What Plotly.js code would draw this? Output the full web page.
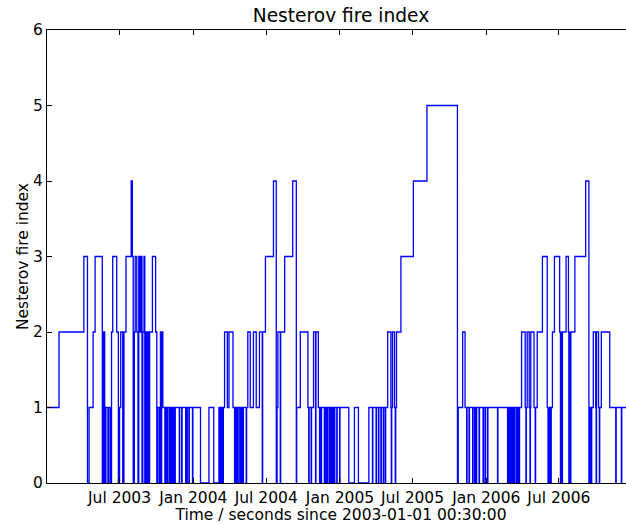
<!DOCTYPE html>
<html>
<head>
<meta charset="utf-8">
<script src="https://cdn.plot.ly/plotly-3.0.1.min.js"></script>
<style>
html,body{margin:0;padding:0;overflow:hidden;background:#fff;}
#chart{width:640px;height:524px;}
</style>
</head>
<body>
<div id="chart"></div>
<script>
// Start of the record (x axis origin)
const startTime = '2003-01-01T00:30:00Z';
const endDay = 1467;

// Day offsets (days since start) at which the index changes
const changeDays = [
0,30,92,101,105,115,120,138,141,144,147,152,154,158,161,164,174,178,181,184,189,192,197,210,213,215,218,220,224,227,229,232,234,237,239,242,244,247,249,251,254,256,263,271,274,276,280,283,285,286,289,
294,295,296,297,300,301,305,306,308,309,311,312,315,316,319,320,330,331,336,337,346,347,349,350,354,355,363,364,383,404,416,429,
431,432,435,436,439,440,443,450,454,464,468,469,472,473,476,477,481,482,485,486,489,490,497,498,501,507,515,522,530,537,538,545,565,572,574,576,582,583,593,613,622,623,632,651,
653,654,659,660,665,670,671,677,680,681,684,685,692,693,696,697,700,701,705,706,709,710,713,714,717,718,723,724,730,731,753,767,777,803,
812,813,821,822,827,828,833,834,839,840,844,845,850,858,859,860,862,867,869,870,872,883,914,948,1024,1026,1037,1043,
1047,1048,1053,1054,1062,1063,1067,1068,1071,1072,1078,1079,1088,1089,1093,1094,1099,1100,1124,1125,
1149,1150,1153,1154,1157,1158,1161,1162,1165,1166,1170,1171,1174,1175,1178,1179,1184,1193,1195,1196,1198,1203,1205,1206,1207,1215,1218,1219,1223,1236,
1248,1250,1251,1252,1253,1255,1256,1257,1258,1261,1266,1279,1281,1282,1285,1286,1295,1301,1302,1303,1306,1307,1317,1344,1352,1355,1358,1359,1363,1369,1370,1371,1376,1378,1379,1383,1404,1419,1420,1433,1434,1467
];

// Nesterov fire index value from each change day onward
const fireIndex = [
1,2,3,0,1,2,3,0,2,0,1,0,1,0,2,3,2,0,1,2,0,2,3,4,3,0,2,3,2,0,3,2,3,0,2,3,0,2,0,2,0,2,3,2,0,1,0,2,0,2,1,
0,1,0,1,0,1,0,1,0,1,0,1,0,1,0,1,0,1,0,1,0,1,0,1,0,1,0,1,0,1,0,1,
0,1,0,1,0,1,2,1,2,1,0,1,0,1,0,1,0,1,0,1,0,1,0,1,2,1,2,1,2,0,2,3,4,0,1,2,0,2,3,4,0,1,2,1,
0,1,0,1,2,0,2,1,0,1,0,1,0,1,0,1,0,1,0,1,0,1,0,1,0,1,0,1,0,1,0,1,0,1,
0,1,0,1,0,1,0,1,0,1,0,1,2,1,0,1,2,1,0,1,2,3,4,5,0,1,2,1,
0,1,0,1,0,1,0,1,0,1,0,1,0,1,0,1,0,1,0,1,
0,1,0,1,0,1,0,1,0,1,0,1,0,1,0,1,2,1,0,1,2,1,0,1,2,1,0,1,2,3,
1,0,1,0,1,0,1,0,1,2,3,2,0,2,0,2,3,2,0,2,0,2,3,4,0,1,0,1,2,1,0,2,1,0,1,2,1,0,1,0,1,1
];

const tickDates = ['2003-07-01','2004-01-01','2004-07-01','2005-01-01','2005-07-01','2006-01-01','2006-07-01'];
const tickLabels = ['Jul 2003','Jan 2004','Jul 2004','Jan 2005','Jul 2005','Jan 2006','Jul 2006'];
const yTicks = [0,1,2,3,4,5,6];

const t0 = Date.parse(startTime);
function dayToDate(d){
  return new Date(t0 + d*86400000).toISOString().replace('T',' ').slice(0,19);
}
const xDates = changeDays.map(dayToDate);

const font = {family:'DejaVu Sans, sans-serif', size:15.5, color:'#000'};

Plotly.newPlot('chart', [{
  x: xDates,
  y: fireIndex,
  type: 'scatter',
  mode: 'lines',
  line: {shape:'hv', color:'#0000ff', width:1.3},
  hoverinfo: 'skip'
}], {
  width: 640, height: 524,
  margin: {l:47, r:5, t:30, b:41, pad:0},
  paper_bgcolor:'#fff', plot_bgcolor:'#fff',
  showlegend:false,
  font: font,
  title: {text:'Nesterov fire index', font:{family:'DejaVu Sans, sans-serif', size:18.6, color:'#000'},
          x:0.5, xref:'paper', xanchor:'center', y:1-15/524, yref:'container', yanchor:'middle'},
  xaxis: {
    type:'date',
    range:[dayToDate(0), dayToDate(endDay)],
    tickvals: tickDates, ticktext: tickLabels,
    ticks:'inside', ticklen:5, tickwidth:1, tickcolor:'#000',
    showline:true, linecolor:'#000', linewidth:1, mirror:'ticks',
    showgrid:false, zeroline:false,
    tickfont: font,
    title:{text:'Time / seconds since 2003-01-01 00:30:00', font:font, standoff:5},
    automargin:false
  },
  yaxis: {
    range:[0,6],
    tickvals: yTicks,
    ticks:'inside', ticklen:5, tickwidth:1, tickcolor:'#000',
    showline:true, linecolor:'#000', linewidth:1, mirror:'ticks',
    showgrid:false, zeroline:false,
    tickfont: font,
    title:{text:'Nesterov fire index', font:font, standoff:0},
    automargin:false
  }
}, {displayModeBar:false, staticPlot:true});
</script>
</body>
</html>
